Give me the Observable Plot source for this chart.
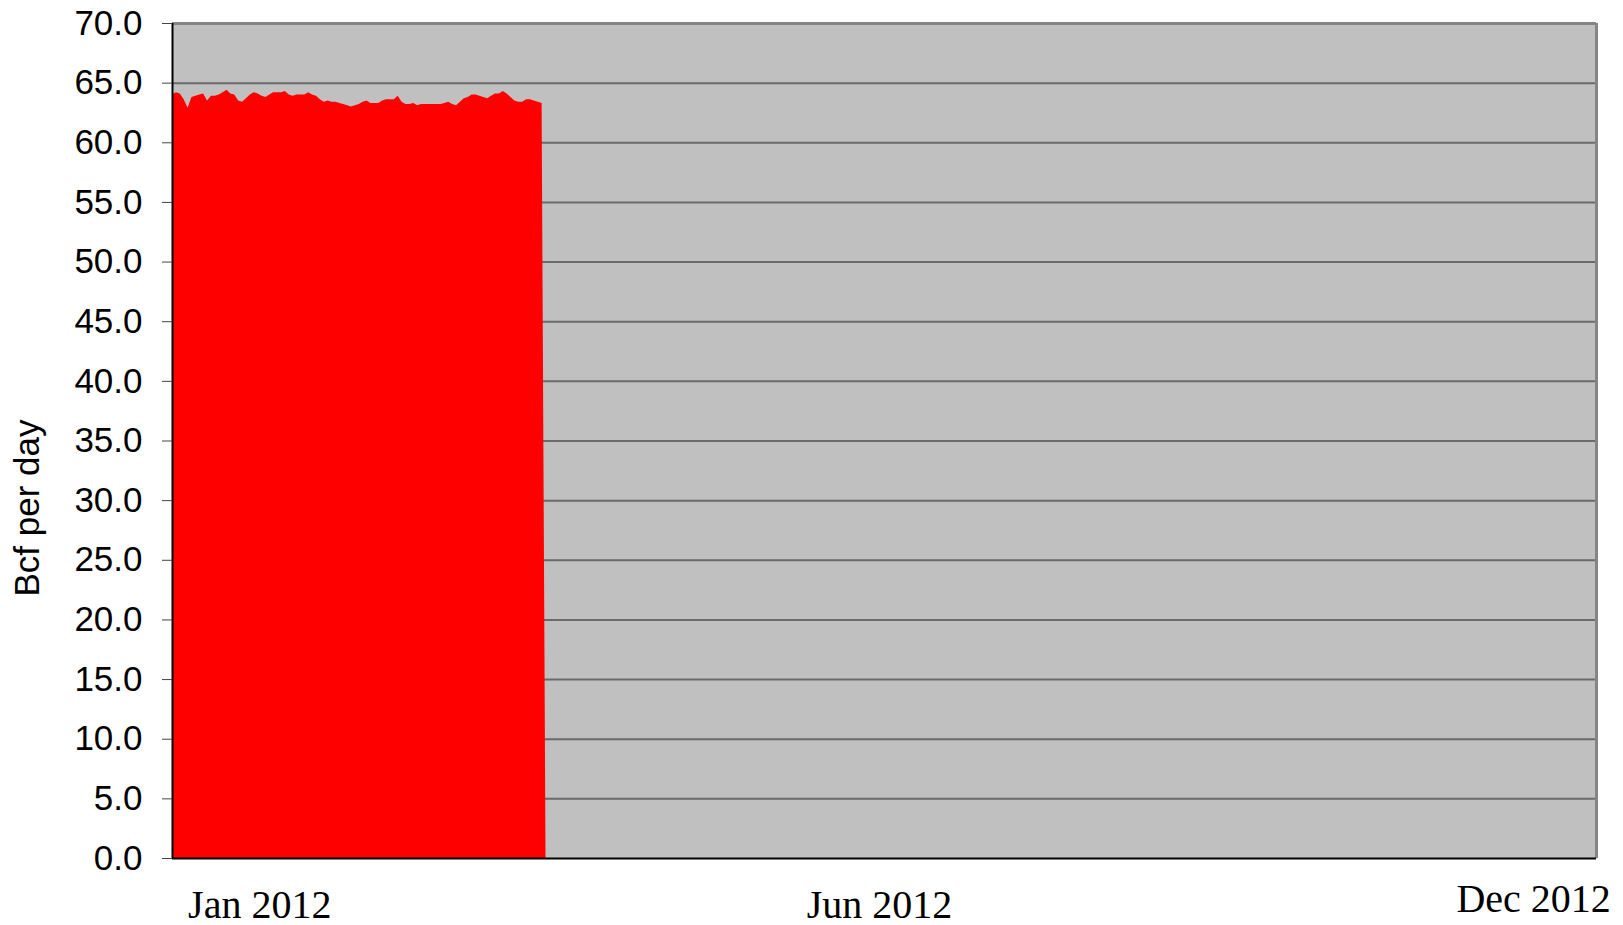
<!DOCTYPE html>
<html><head><meta charset="utf-8">
<script src="https://cdn.jsdelivr.net/npm/d3@7"></script>
<script src="https://cdn.jsdelivr.net/npm/@observablehq/plot@0.6"></script>
<style>body{margin:0;background:#fff}</style>
</head><body><div id="chart"></div>
<script>
// Daily series, first value on startDate
const startDate = "2012-01-01";
const endDate = "2013-01-01";
const flowValues = [
  64.0,64.2,64.1,63.6,62.9,63.8,63.9,64.0,64.1,63.5,
  63.9,63.9,64.0,64.2,64.4,64.1,64.0,63.5,63.4,63.7,
  64.0,64.2,64.1,63.9,63.8,64.0,64.2,64.2,64.2,64.3,
  64.0,63.9,64.0,64.0,64.0,64.2,64.0,63.9,63.6,63.4,
  63.5,63.4,63.4,63.3,63.2,63.1,63.0,63.1,63.2,63.4,
  63.5,63.3,63.3,63.3,63.5,63.6,63.6,63.6,63.9,63.4,
  63.2,63.2,63.3,63.1,63.2,63.2,63.2,63.2,63.2,63.2,
  63.3,63.4,63.2,63.1,63.4,63.7,63.8,64.0,64.0,63.9,
  63.8,63.7,63.9,64.1,64.1,64.3,64.1,63.8,63.5,63.4,
  63.4,63.6,63.6,63.5,63.4,63.3,0
];
const yTicks = [0,5,10,15,20,25,30,35,40,45,50,55,60,65,70];
const xTickDates = ["2012-01-05","2012-06-12"];
const xTickLabels = ["Jan 2012","Jun 2012"];
const xEndTickDate = "2012-11-26";
const xEndTickLabel = "Dec 2012";
const yTitle = "Bcf per day";

const parse = d3.utcParse("%Y-%m-%d");
const start = parse(startDate);
const end = parse(endDate);
const data = flowValues.map((v, i) => ({date: d3.utcDay.offset(start, i), value: v}));
const tickDates = xTickDates.map(parse);
const labelMap = new Map(tickDates.map((d, i) => [d.getTime(), xTickLabels[i]]));
const serif = "'Liberation Serif', 'DejaVu Serif', serif";

const plot = Plot.plot({
  width: 1623, height: 925,
  marginLeft: 172, marginRight: 27, marginTop: 23, marginBottom: 67,
  style: {fontFamily: "'Liberation Sans', Arial, sans-serif", fontSize: "35px", color: "#000", background: "#fff", overflow: "visible"},
  x: {type: "utc", domain: [start, end]},
  y: {domain: [0, 70]},
  marks: [
    Plot.frame({fill: "#C0C0C0", stroke: null}),
    Plot.ruleY(yTicks.filter(d => d > 0 && d < 70), {stroke: "#6a6a6a", strokeWidth: 2}),
    Plot.areaY(data, {x: "date", y: "value", fill: "#FF0000", curve: "linear"}),
    Plot.ruleY([70], {stroke: "#858585", strokeWidth: 3}),
    Plot.ruleX([end], {stroke: "#858585", strokeWidth: 3}),
    Plot.ruleX([start], {stroke: "#000", strokeWidth: 2}),
    Plot.ruleY([0], {stroke: "#000", strokeWidth: 2}),
    Plot.axisY({ticks: yTicks, tickFormat: d => d.toFixed(1), tickSize: 10, tickPadding: 20, stroke: "#444", label: null, fontSize: 35}),
    Plot.axisX({ticks: tickDates, tickFormat: d => labelMap.get(d.getTime()), tickSize: 0, tickPadding: 31, textAnchor: "start", fontFamily: serif, fontSize: 40, label: null}),
    Plot.axisX({ticks: [parse(xEndTickDate)], tickFormat: () => xEndTickLabel, tickSize: 0, tickPadding: 25, textAnchor: "start", fontFamily: serif, fontSize: 40, label: null})
  ]
});

d3.select(plot).append("text")
  .attr("transform", "translate(39,508) rotate(-90)")
  .attr("text-anchor", "middle")
  .attr("font-family", "'Liberation Sans', Arial, sans-serif")
  .attr("font-size", 35)
  .attr("fill", "#000")
  .text(yTitle);

document.getElementById("chart").appendChild(plot);
</script>
</body></html>
